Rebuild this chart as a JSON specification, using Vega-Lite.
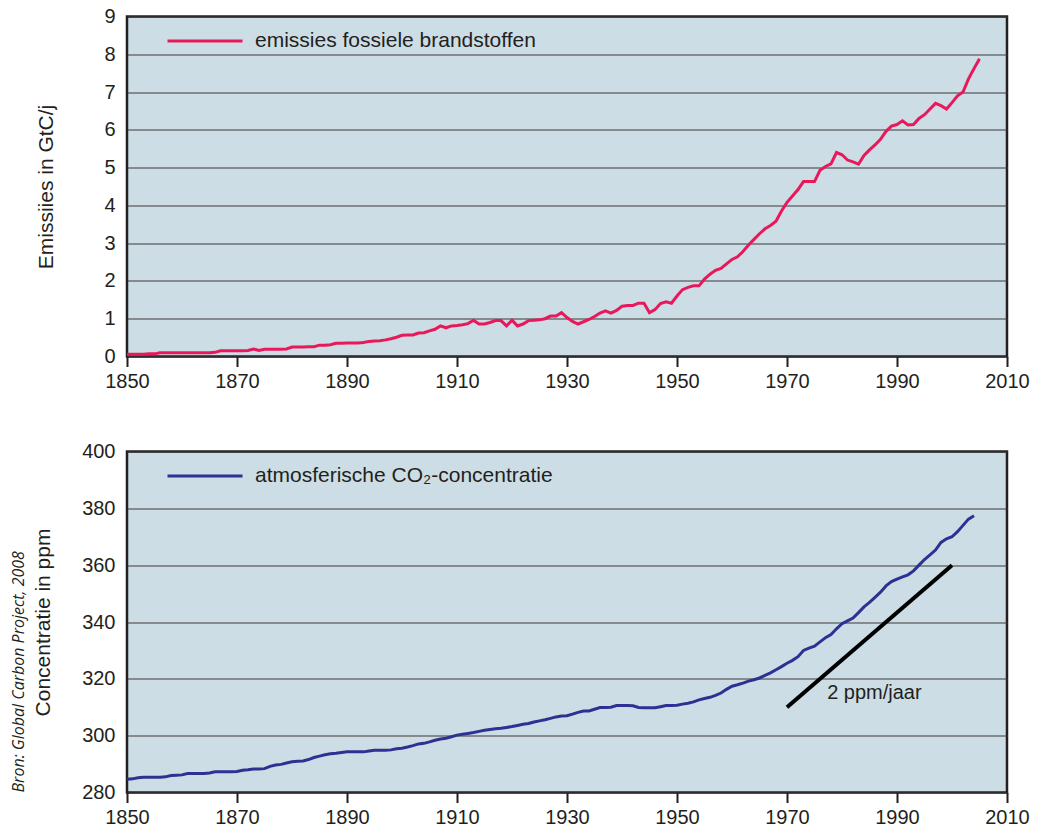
{
  "$schema": "https://vega.github.io/schema/vega-lite/v6.json",
  "padding": {"left": 9, "top": 0.5, "right": 0, "bottom": 0},
  "background": "white",
  "spacing": 42,
  "config": {
    "font": "Liberation Sans",
    "view": {"fill": "#CCDDE5", "stroke": "#231F20", "strokeWidth": 2.5},
    "axis": {
      "labelFontSize": 20, "labelColor": "#231F20", "labelFont": "Liberation Sans", "labelFlush": false,
      "titleFontSize": 21, "titleFontWeight": "normal", "titleColor": "#231F20", "titleFont": "Liberation Sans",
      "gridColor": "#3a3a3a", "gridWidth": 1.2, "gridOpacity": 1
    },
    "legend": {
      "orient": "none", "legendX": 39, "legendY": -14.5, "padding": 0,
      "symbolType": "stroke", "symbolSize": 5625, "symbolStrokeWidth": 3,
      "labelFontSize": 21, "labelColor": "#231F20", "labelFont": "Liberation Sans", "labelOffset": 11, "labelLimit": 500
    }
  },
  "resolve": {"scale": {"color": "independent"}, "legend": {"color": "independent"}},
  "datasets": {
    "emissions": [
      {"year":1850,"gtc":0.06},{"year":1851,"gtc":0.06},{"year":1852,"gtc":0.06},{"year":1853,"gtc":0.06},{"year":1854,"gtc":0.07},{"year":1855,"gtc":0.07},{"year":1856,"gtc":0.1},{"year":1857,"gtc":0.1},{"year":1858,"gtc":0.1},{"year":1859,"gtc":0.1},
      {"year":1860,"gtc":0.1},{"year":1861,"gtc":0.1},{"year":1862,"gtc":0.1},{"year":1863,"gtc":0.1},{"year":1864,"gtc":0.1},{"year":1865,"gtc":0.1},{"year":1866,"gtc":0.11},{"year":1867,"gtc":0.15},{"year":1868,"gtc":0.15},{"year":1869,"gtc":0.15},
      {"year":1870,"gtc":0.15},{"year":1871,"gtc":0.15},{"year":1872,"gtc":0.16},{"year":1873,"gtc":0.2},{"year":1874,"gtc":0.16},{"year":1875,"gtc":0.19},{"year":1876,"gtc":0.19},{"year":1877,"gtc":0.19},{"year":1878,"gtc":0.19},{"year":1879,"gtc":0.2},
      {"year":1880,"gtc":0.25},{"year":1881,"gtc":0.25},{"year":1882,"gtc":0.25},{"year":1883,"gtc":0.26},{"year":1884,"gtc":0.26},{"year":1885,"gtc":0.3},{"year":1886,"gtc":0.3},{"year":1887,"gtc":0.31},{"year":1888,"gtc":0.35},{"year":1889,"gtc":0.35},
      {"year":1890,"gtc":0.36},{"year":1891,"gtc":0.36},{"year":1892,"gtc":0.36},{"year":1893,"gtc":0.37},{"year":1894,"gtc":0.4},{"year":1895,"gtc":0.41},{"year":1896,"gtc":0.42},{"year":1897,"gtc":0.44},{"year":1898,"gtc":0.47},{"year":1899,"gtc":0.51},
      {"year":1900,"gtc":0.56},{"year":1901,"gtc":0.57},{"year":1902,"gtc":0.57},{"year":1903,"gtc":0.62},{"year":1904,"gtc":0.63},{"year":1905,"gtc":0.68},{"year":1906,"gtc":0.72},{"year":1907,"gtc":0.81},{"year":1908,"gtc":0.76},{"year":1909,"gtc":0.81},
      {"year":1910,"gtc":0.82},{"year":1911,"gtc":0.84},{"year":1912,"gtc":0.87},{"year":1913,"gtc":0.96},{"year":1914,"gtc":0.86},{"year":1915,"gtc":0.86},{"year":1916,"gtc":0.9},{"year":1917,"gtc":0.95},{"year":1918,"gtc":0.95},{"year":1919,"gtc":0.81},
      {"year":1920,"gtc":0.96},{"year":1921,"gtc":0.81},{"year":1922,"gtc":0.86},{"year":1923,"gtc":0.95},{"year":1924,"gtc":0.96},{"year":1925,"gtc":0.97},{"year":1926,"gtc":1.0},{"year":1927,"gtc":1.07},{"year":1928,"gtc":1.07},{"year":1929,"gtc":1.16},
      {"year":1930,"gtc":1.03},{"year":1931,"gtc":0.93},{"year":1932,"gtc":0.86},{"year":1933,"gtc":0.92},{"year":1934,"gtc":0.98},{"year":1935,"gtc":1.06},{"year":1936,"gtc":1.15},{"year":1937,"gtc":1.21},{"year":1938,"gtc":1.15},{"year":1939,"gtc":1.22},
      {"year":1940,"gtc":1.33},{"year":1941,"gtc":1.35},{"year":1942,"gtc":1.35},{"year":1943,"gtc":1.41},{"year":1944,"gtc":1.41},{"year":1945,"gtc":1.16},{"year":1946,"gtc":1.24},{"year":1947,"gtc":1.4},{"year":1948,"gtc":1.45},{"year":1949,"gtc":1.41},
      {"year":1950,"gtc":1.6},{"year":1951,"gtc":1.77},{"year":1952,"gtc":1.83},{"year":1953,"gtc":1.87},{"year":1954,"gtc":1.87},{"year":1955,"gtc":2.05},{"year":1956,"gtc":2.18},{"year":1957,"gtc":2.28},{"year":1958,"gtc":2.33},{"year":1959,"gtc":2.45},
      {"year":1960,"gtc":2.57},{"year":1961,"gtc":2.64},{"year":1962,"gtc":2.78},{"year":1963,"gtc":2.95},{"year":1964,"gtc":3.1},{"year":1965,"gtc":3.25},{"year":1966,"gtc":3.38},{"year":1967,"gtc":3.47},{"year":1968,"gtc":3.58},{"year":1969,"gtc":3.85},
      {"year":1970,"gtc":4.08},{"year":1971,"gtc":4.25},{"year":1972,"gtc":4.42},{"year":1973,"gtc":4.63},{"year":1974,"gtc":4.63},{"year":1975,"gtc":4.63},{"year":1976,"gtc":4.93},{"year":1977,"gtc":5.03},{"year":1978,"gtc":5.1},{"year":1979,"gtc":5.4},
      {"year":1980,"gtc":5.34},{"year":1981,"gtc":5.2},{"year":1982,"gtc":5.15},{"year":1983,"gtc":5.09},{"year":1984,"gtc":5.32},{"year":1985,"gtc":5.47},{"year":1986,"gtc":5.6},{"year":1987,"gtc":5.75},{"year":1988,"gtc":5.96},{"year":1989,"gtc":6.1},
      {"year":1990,"gtc":6.14},{"year":1991,"gtc":6.24},{"year":1992,"gtc":6.13},{"year":1993,"gtc":6.14},{"year":1994,"gtc":6.3},{"year":1995,"gtc":6.4},{"year":1996,"gtc":6.55},{"year":1997,"gtc":6.7},{"year":1998,"gtc":6.64},{"year":1999,"gtc":6.55},
      {"year":2000,"gtc":6.72},{"year":2001,"gtc":6.9},{"year":2002,"gtc":7.0},{"year":2003,"gtc":7.35},{"year":2004,"gtc":7.62},{"year":2005,"gtc":7.88}
    ],
    "co2": [
      {"year":1850,"ppm":284.7},{"year":1851,"ppm":284.8},{"year":1852,"ppm":285.2},{"year":1853,"ppm":285.4},{"year":1854,"ppm":285.4},{"year":1855,"ppm":285.4},{"year":1856,"ppm":285.4},{"year":1857,"ppm":285.5},{"year":1858,"ppm":286.0},{"year":1859,"ppm":286.1},
      {"year":1860,"ppm":286.2},{"year":1861,"ppm":286.7},{"year":1862,"ppm":286.7},{"year":1863,"ppm":286.7},{"year":1864,"ppm":286.7},{"year":1865,"ppm":286.9},{"year":1866,"ppm":287.3},{"year":1867,"ppm":287.3},{"year":1868,"ppm":287.3},{"year":1869,"ppm":287.3},
      {"year":1870,"ppm":287.4},{"year":1871,"ppm":287.8},{"year":1872,"ppm":288.0},{"year":1873,"ppm":288.3},{"year":1874,"ppm":288.3},{"year":1875,"ppm":288.4},{"year":1876,"ppm":289.2},{"year":1877,"ppm":289.7},{"year":1878,"ppm":289.9},{"year":1879,"ppm":290.4},
      {"year":1880,"ppm":290.8},{"year":1881,"ppm":291.0},{"year":1882,"ppm":291.1},{"year":1883,"ppm":291.6},{"year":1884,"ppm":292.3},{"year":1885,"ppm":292.8},{"year":1886,"ppm":293.3},{"year":1887,"ppm":293.6},{"year":1888,"ppm":293.8},{"year":1889,"ppm":294.1},
      {"year":1890,"ppm":294.3},{"year":1891,"ppm":294.3},{"year":1892,"ppm":294.3},{"year":1893,"ppm":294.3},{"year":1894,"ppm":294.6},{"year":1895,"ppm":294.9},{"year":1896,"ppm":294.9},{"year":1897,"ppm":294.9},{"year":1898,"ppm":295.0},{"year":1899,"ppm":295.4},
      {"year":1900,"ppm":295.6},{"year":1901,"ppm":296.0},{"year":1902,"ppm":296.5},{"year":1903,"ppm":297.1},{"year":1904,"ppm":297.3},{"year":1905,"ppm":297.8},{"year":1906,"ppm":298.4},{"year":1907,"ppm":298.8},{"year":1908,"ppm":299.1},{"year":1909,"ppm":299.6},
      {"year":1910,"ppm":300.2},{"year":1911,"ppm":300.5},{"year":1912,"ppm":300.8},{"year":1913,"ppm":301.1},{"year":1914,"ppm":301.5},{"year":1915,"ppm":301.9},{"year":1916,"ppm":302.2},{"year":1917,"ppm":302.4},{"year":1918,"ppm":302.6},{"year":1919,"ppm":302.9},
      {"year":1920,"ppm":303.2},{"year":1921,"ppm":303.6},{"year":1922,"ppm":304.0},{"year":1923,"ppm":304.3},{"year":1924,"ppm":304.8},{"year":1925,"ppm":305.2},{"year":1926,"ppm":305.6},{"year":1927,"ppm":306.1},{"year":1928,"ppm":306.6},{"year":1929,"ppm":306.9},
      {"year":1930,"ppm":307.0},{"year":1931,"ppm":307.6},{"year":1932,"ppm":308.2},{"year":1933,"ppm":308.7},{"year":1934,"ppm":308.7},{"year":1935,"ppm":309.3},{"year":1936,"ppm":309.9},{"year":1937,"ppm":309.9},{"year":1938,"ppm":310.0},{"year":1939,"ppm":310.6},
      {"year":1940,"ppm":310.6},{"year":1941,"ppm":310.6},{"year":1942,"ppm":310.5},{"year":1943,"ppm":309.9},{"year":1944,"ppm":309.8},{"year":1945,"ppm":309.8},{"year":1946,"ppm":309.8},{"year":1947,"ppm":310.2},{"year":1948,"ppm":310.6},{"year":1949,"ppm":310.6},
      {"year":1950,"ppm":310.7},{"year":1951,"ppm":311.1},{"year":1952,"ppm":311.4},{"year":1953,"ppm":311.9},{"year":1954,"ppm":312.6},{"year":1955,"ppm":313.1},{"year":1956,"ppm":313.5},{"year":1957,"ppm":314.2},{"year":1958,"ppm":315.0},{"year":1959,"ppm":316.3},
      {"year":1960,"ppm":317.4},{"year":1961,"ppm":317.9},{"year":1962,"ppm":318.5},{"year":1963,"ppm":319.2},{"year":1964,"ppm":319.7},{"year":1965,"ppm":320.3},{"year":1966,"ppm":321.2},{"year":1967,"ppm":322.1},{"year":1968,"ppm":323.2},{"year":1969,"ppm":324.3},
      {"year":1970,"ppm":325.5},{"year":1971,"ppm":326.5},{"year":1972,"ppm":327.8},{"year":1973,"ppm":330.0},{"year":1974,"ppm":330.8},{"year":1975,"ppm":331.5},{"year":1976,"ppm":333.0},{"year":1977,"ppm":334.5},{"year":1978,"ppm":335.6},{"year":1979,"ppm":337.6},
      {"year":1980,"ppm":339.4},{"year":1981,"ppm":340.4},{"year":1982,"ppm":341.4},{"year":1983,"ppm":343.3},{"year":1984,"ppm":345.3},{"year":1985,"ppm":346.9},{"year":1986,"ppm":348.7},{"year":1987,"ppm":350.5},{"year":1988,"ppm":352.7},{"year":1989,"ppm":354.2},
      {"year":1990,"ppm":355.1},{"year":1991,"ppm":355.9},{"year":1992,"ppm":356.6},{"year":1993,"ppm":358.0},{"year":1994,"ppm":360.0},{"year":1995,"ppm":362.0},{"year":1996,"ppm":363.6},{"year":1997,"ppm":365.3},{"year":1998,"ppm":368.0},{"year":1999,"ppm":369.3},
      {"year":2000,"ppm":370.0},{"year":2001,"ppm":371.8},{"year":2002,"ppm":374.0},{"year":2003,"ppm":376.2},{"year":2004,"ppm":377.4}
    ],
    "trend": [{"year":1970,"ppm":310},{"year":2000,"ppm":360}],
    "label": [{"year":1977.3,"ppm":315,"text":"2 ppm/jaar"}]
  },
  "vconcat": [
    {
      "width": 880, "height": 340,
      "data": {"name": "emissions"},
      "mark": {"type": "line", "strokeWidth": 3},
      "encoding": {
        "x": {"field": "year", "type": "quantitative",
          "scale": {"domain": [1850, 2010], "nice": false, "zero": false},
          "axis": {"values": [1850,1870,1890,1910,1930,1950,1970,1990,2010], "format": "d", "title": null, "grid": false, "domain": false, "ticks": true, "tickSize": 10, "tickWidth": 2, "tickColor": "#231F20", "labelPadding": 5}},
        "y": {"field": "gtc", "type": "quantitative",
          "scale": {"domain": [0, 9], "nice": false},
          "axis": {"values": [0,1,2,3,4,5,6,7,8,9], "title": "Emissiies in GtC/j", "grid": true, "ticks": false, "domain": false, "labelPadding": 12, "titlePadding": 47}},
        "color": {"datum": "emissies fossiele brandstoffen", "type": "nominal", "scale": {"range": ["#E9185B"]}, "legend": {"title": null}}
      }
    },
    {
      "width": 880, "height": 341,
      "title": {"text": "Bron: Global Carbon Project, 2008", "orient": "left", "anchor": "start", "frame": "group", "font": "Open Sans", "fontStyle": "italic", "fontWeight": "normal", "fontSize": 16, "color": "#231F20", "offset": 6},
      "layer": [
        {
          "data": {"name": "co2"},
          "mark": {"type": "line", "strokeWidth": 3},
          "encoding": {
            "x": {"field": "year", "type": "quantitative",
              "scale": {"domain": [1850, 2010], "nice": false, "zero": false},
              "axis": {"values": [1850,1870,1890,1910,1930,1950,1970,1990,2010], "format": "d", "title": null, "grid": false, "domain": false, "ticks": true, "tickSize": 10, "tickWidth": 2, "tickColor": "#231F20", "labelPadding": 5}},
            "y": {"field": "ppm", "type": "quantitative",
              "scale": {"domain": [280, 400], "nice": false, "zero": false},
              "axis": {"values": [280,300,320,340,360,380,400], "title": "Concentratie in ppm", "grid": true, "ticks": false, "domain": false, "labelPadding": 12, "titlePadding": 28}},
            "color": {"datum": "atmosferische CO₂-concentratie", "type": "nominal", "scale": {"range": ["#2E3192"]}, "legend": {"title": null}}
          }
        },
        {
          "data": {"name": "trend"},
          "mark": {"type": "line", "strokeWidth": 4, "color": "black"},
          "encoding": {
            "x": {"field": "year", "type": "quantitative"},
            "y": {"field": "ppm", "type": "quantitative"}
          }
        },
        {
          "data": {"name": "label"},
          "mark": {"type": "text", "align": "left", "baseline": "middle", "fontSize": 20, "font": "Liberation Sans", "color": "#231F20"},
          "encoding": {
            "x": {"field": "year", "type": "quantitative"},
            "y": {"field": "ppm", "type": "quantitative"},
            "text": {"field": "text"}
          }
        }
      ]
    }
  ]
}
